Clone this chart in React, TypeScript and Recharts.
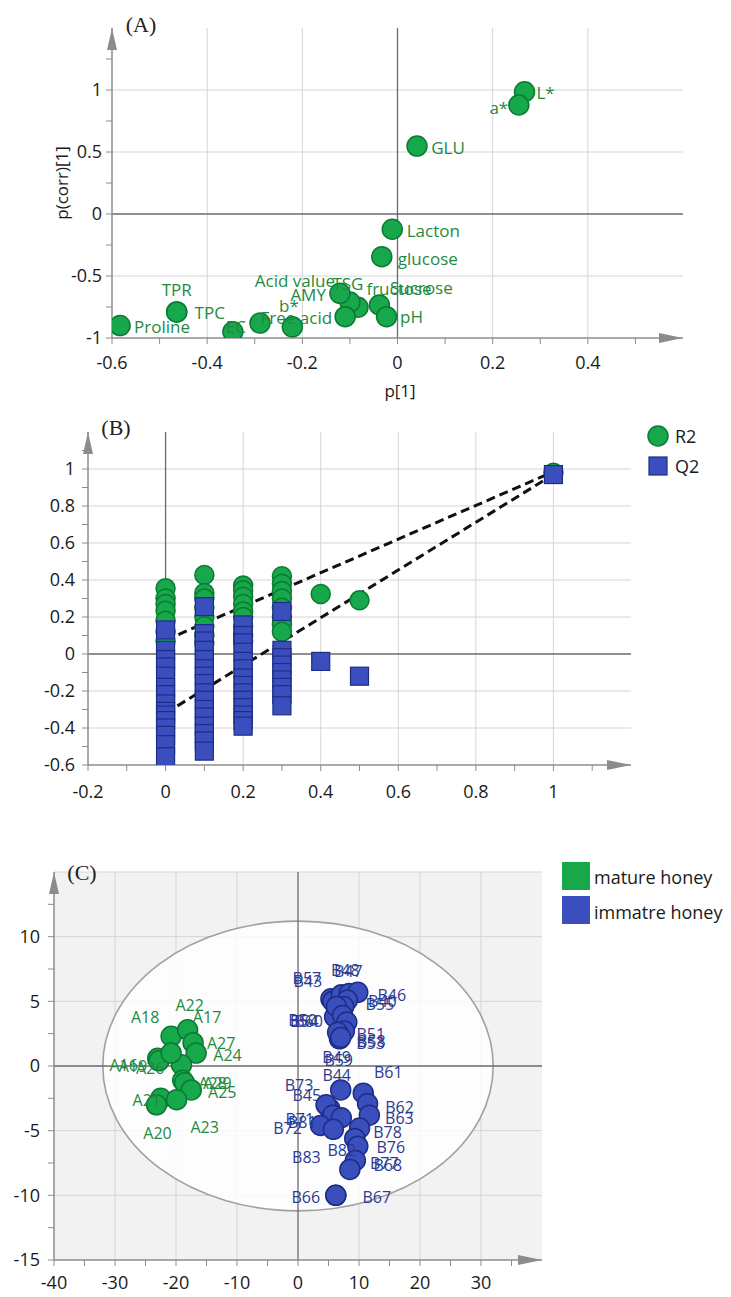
import React from "react";
import {
  ScatterChart,
  Scatter,
  XAxis,
  YAxis,
  CartesianGrid,
  ReferenceLine,
  ReferenceDot,
  ReferenceArea,
  Legend,
} from "recharts";

const FONT = '"Open Sans", "Noto Sans", sans-serif';
const SERIF = '"Liberation Serif", "DejaVu Serif", serif';
const GREEN = "#17a84c";
const GREEN_EDGE = "#0b7a33";
const GREEN_TEXT = "#1f8a3f";
const BLUE = "#3a4fbd";
const BLUE_EDGE = "#1d2d85";
const BLUE_TEXT = "#2b3b92";
const GRID = "#d5d5d5";
const AXIS = "#8c8c8c";
const ZERO = "#6a6a6a";

// ---- (A) loading plot ----
const loadNames = ["L*", "a*", "GLU", "Lacton", "glucose", "Sucrose", "pH", "fructose", "TSG", "Acid value", "AMY", "Free acid", "b*", "EC", "TPC", "TPR", "Proline"];
const loadP1 = [0.267, 0.255, 0.041, -0.011, -0.033, -0.038, -0.023, -0.083, -0.1, -0.121, -0.11, -0.221, -0.289, -0.346, -0.464, -0.464, -0.583];
const loadPcorr = [0.986, 0.879, 0.548, -0.123, -0.344, -0.734, -0.828, -0.752, -0.71, -0.64, -0.828, -0.91, -0.88, -0.95, -0.79, -0.79, -0.9];

const xTicksA = [-0.6, -0.5, -0.4, -0.3, -0.2, -0.1, 0, 0.1, 0.2, 0.3, 0.4, 0.5];
const xMajorA = [-0.6, -0.4, -0.2, 0, 0.2, 0.4];
const yTicksA = [-1, -0.75, -0.5, -0.25, 0, 0.25, 0.5, 0.75, 1, 1.25];
const yMajorA = [-1, -0.5, 0, 0.5, 1];

// ---- (B) permutation test ----
const permLevels = [0, 0.1, 0.2, 0.3];
const r2Perm = [
  [0.355, 0.3, 0.27, 0.234, 0.18, 0.12, 0.07],
  [0.427, 0.33, 0.3, 0.25, 0.2, 0.15, 0.1, 0.06],
  [0.37, 0.345, 0.31, 0.27, 0.23, 0.2, 0.15, 0.1, 0.07],
  [0.42, 0.38, 0.34, 0.3, 0.25, 0.2, 0.16, 0.12],
];
const q2Perm = [
  [0.13, 0.02, -0.03, -0.07, -0.12, -0.18, -0.22, -0.27, -0.31, -0.33, -0.36, -0.4, -0.44, -0.49, -0.555],
  [0.256, 0.11, 0.07, 0.02, -0.03, -0.08, -0.12, -0.16, -0.21, -0.25, -0.3, -0.34, -0.39, -0.43, -0.47, -0.525],
  [0.157, 0.1, 0.06, 0.01, -0.04, -0.08, -0.13, -0.17, -0.21, -0.25, -0.29, -0.33, -0.36, -0.39],
  [0.23, 0.02, -0.02, -0.06, -0.1, -0.14, -0.18, -0.22, -0.28],
];
const r2OtherX = [0.4, 0.5, 1];
const r2OtherY = [0.324, 0.29, 0.98];
const q2OtherX = [0.4, 0.5, 1];
const q2OtherY = [-0.04, -0.12, 0.97];
const r2Line = [0.075, 0.985];
const q2Line = [-0.32, 0.97];

const xTicksB = [-0.2, -0.1, 0, 0.1, 0.2, 0.3, 0.4, 0.5, 0.6, 0.7, 0.8, 0.9, 1, 1.1];
const xMajorB = [-0.2, 0, 0.2, 0.4, 0.6, 0.8, 1];
const yTicksB = [-0.6, -0.5, -0.4, -0.3, -0.2, -0.1, 0, 0.1, 0.2, 0.3, 0.4, 0.5, 0.6, 0.7, 0.8, 0.9, 1, 1.1];
const yMajorB = [-0.6, -0.4, -0.2, 0, 0.2, 0.4, 0.6, 0.8, 1];

// ---- (C) score plot ----
const matureNames = ["A18", "A22", "A17", "A27", "A24", "A16", "A19", "A26", "A28", "A29", "A25", "A21", "A20", "A23"];
const matureX = [-20.8, -18.1, -17.2, -16.7, -19.1, -23.0, -22.8, -20.8, -18.9, -18.6, -17.5, -22.5, -23.2, -19.9];
const matureY = [2.3, 2.8, 1.8, 1.0, 0.1, 0.6, 0.4, 1.0, -1.1, -1.3, -1.85, -2.5, -3.0, -2.6];

const immatureNames = ["B57", "B43", "B48", "B47", "B46", "B40", "B55", "B50", "B54", "B60", "B51", "B53", "B58", "B49", "B59", "B44", "B61", "B62", "B63", "B45", "B73", "B71", "B81", "B72", "B83", "B78", "B82", "B76", "B77", "B68", "B66", "B67"];
const immatureX = [5.4, 5.7, 7.1, 8.4, 9.8, 8.1, 7.5, 6.0, 6.3, 7.3, 8.0, 6.8, 7.6, 6.5, 7.0, 7.0, 10.7, 11.4, 11.7, 5.2, 4.6, 5.7, 7.1, 3.7, 5.8, 10.1, 9.3, 9.8, 9.4, 8.5, 6.2, 6.2];
const immatureY = [5.2, 5.0, 5.5, 5.6, 5.7, 5.1, 4.6, 3.8, 4.6, 3.9, 3.4, 2.1, 2.7, 2.6, 2.2, -1.85, -2.1, -2.9, -3.8, -3.3, -3.0, -3.8, -4.0, -4.6, -4.9, -4.8, -5.6, -6.2, -7.3, -8.0, -10.0, -10.0];
const ellipseRx = 32;
const ellipseRy = 11.2;

const xTicksC = [-40, -35, -30, -25, -20, -15, -10, -5, 0, 5, 10, 15, 20, 25, 30, 35];
const xMajorC = [-40, -30, -20, -10, 0, 10, 20, 30];
const yTicksC = [-15, -12.5, -10, -7.5, -5, -2.5, 0, 2.5, 5, 7.5, 10, 12.5];
const yMajorC = [-15, -10, -5, 0, 5, 10];

// label placement (px offsets of label centre from the marker)
const nudgeA: Record<string, number[]> = {
  "L*": [21, 1], "a*": [-20, 2], GLU: [31, 1], Lacton: [41, 1], glucose: [46, 2],
  Sucrose: [42, -18], pH: [25, 0], fructose: [41, -19], TSG: [-2, -19],
  "Acid value": [-45, -13], AMY: [-37, -22], "Free acid": [4, -9], "b*": [29, -18],
  EC: [3, -5], TPC: [33, 1], TPR: [0, -22], Proline: [42, 1],
};
const nudgeC: Record<string, number[]> = {
  A18: [-26, -19], A22: [2, -25], A17: [14, -26], A27: [25, -10], A24: [46, -10],
  A16: [-34, 7], A19: [-26, 5], A26: [-21, 15], A28: [30, 3], A29: [33, 0], A25: [31, 2],
  A21: [-14, 2], A20: [1, 28], A23: [28, 27],
  B57: [-24, -21], B43: [-25, -20], B48: [4, -25], B47: [-1, -23], B46: [34, 3], B40: [35, 1],
  B55: [36, -3], B50: [-32, 3], B54: [-32, 14], B60: [-34, 5], B51: [24, 12], B53: [31, 4],
  B58: [27, 10], B49: [-1, 25], B59: [-2, 22], B44: [-4, -15], B61: [25, -21], B62: [32, 3],
  B63: [30, 3], B45: [-23, -14], B73: [-27, -20], B71: [-33, 4], B81: [-39, 4], B72: [-33, 3],
  B83: [-27, 28], B78: [28, 4], B82: [-13, 12], B76: [33, 1], B77: [29, 3], B68: [38, -4],
  B66: [-30, 2], B67: [41, 2],
};

const zip = (names: string[], xs: number[], ys: number[]) =>
  xs.map((x, i) => ({ name: names[i], x, y: ys[i] }));

const loadData = zip(loadNames, loadP1, loadPcorr);
const matureData = zip(matureNames, matureX, matureY);
const immatureData = zip(immatureNames, immatureX, immatureY);
const r2Data = [
  ...permLevels.flatMap((lv, i) => r2Perm[i].map((y) => ({ x: lv, y }))),
  ...r2OtherX.map((x, i) => ({ x, y: r2OtherY[i] })),
];
const q2Data = [
  ...permLevels.flatMap((lv, i) => q2Perm[i].map((y) => ({ x: lv, y }))),
  ...q2OtherX.map((x, i) => ({ x, y: q2OtherY[i] })),
];

const fmt = (majors: number[]) => (v: number) => (majors.includes(v) ? String(v) : "");
const tickStyle = { fill: "#1a1a1a", fontSize: 18, fontFamily: FONT };

const circle = (fill: string, stroke: string, r: number) => (p: any) =>
  <circle cx={p.cx} cy={p.cy} r={r} fill={fill} stroke={stroke} strokeWidth={1.5} />;
const square = (fill: string, stroke: string, s: number) => (p: any) =>
  <rect x={p.cx - s / 2} y={p.cy - s / 2} width={s} height={s} fill={fill} stroke={stroke} strokeWidth={1.2} />;
const label = (nudge: Record<string, number[]>, color: string, size: number) => (p: any) => {
  const [dx, dy] = nudge[p.payload.name] ?? [16, 0];
  return (
    <text x={p.cx + dx} y={p.cy + dy} textAnchor="middle" dominantBaseline="central" fill={color} fontSize={size} fontFamily={FONT}>
      {p.payload.name}
    </text>
  );
};
const upArrow = (p: any) => <polygon points={`${p.cx},${p.cy} ${p.cx - 5},${p.cy + 22} ${p.cx + 5},${p.cy + 22}`} fill={AXIS} />;
const rightArrow = (p: any) => <polygon points={`${p.cx},${p.cy} ${p.cx - 24},${p.cy - 5} ${p.cx - 24},${p.cy + 5}`} fill={AXIS} />;

const abs = (left: number, top: number, extra: React.CSSProperties = {}): React.CSSProperties => ({
  position: "absolute", left, top, ...extra,
});

const PanelA = () => (
  <ScatterChart width={731} height={400} margin={{ top: 28, right: 48, bottom: 22, left: 62 }}>
    <CartesianGrid stroke={GRID} verticalValues={[-0.4, -0.2, 0.2, 0.4]} horizontalValues={[-0.5, 0.5, 1]} />
    <XAxis type="number" dataKey="x" domain={[-0.6, 0.6]} allowDataOverflow ticks={xTicksA} interval={0}
      tickFormatter={fmt(xMajorA)} tick={tickStyle} height={40} tickSize={6} tickMargin={12}
      axisLine={{ stroke: AXIS, strokeWidth: 1.5 }} tickLine={{ stroke: AXIS }} />
    <YAxis type="number" dataKey="y" domain={[-1, 1.5]} allowDataOverflow ticks={yTicksA} interval={0}
      tickFormatter={fmt(yMajorA)} tick={tickStyle} width={50} tickSize={6} tickMargin={4}
      axisLine={{ stroke: AXIS, strokeWidth: 1.5 }} tickLine={{ stroke: AXIS }} />
    <ReferenceLine x={0} stroke={ZERO} strokeWidth={1.3} />
    <ReferenceLine y={0} stroke={ZERO} strokeWidth={1.3} />
    <ReferenceDot x={-0.6} y={1.5} ifOverflow="visible" shape={upArrow} />
    <ReferenceDot x={0.6} y={-1} ifOverflow="visible" shape={rightArrow} />
    <Scatter data={loadData} isAnimationActive={false} shape={circle(GREEN, GREEN_EDGE, 10)} />
    <Scatter data={loadData} isAnimationActive={false} shape={label(nudgeA, GREEN_TEXT, 17)} />
  </ScatterChart>
);

const LegendB = () => (
  <svg width={70} height={56} style={{ display: "block" }}>
    <circle cx={12} cy={11} r={10} fill={GREEN} stroke={GREEN_EDGE} strokeWidth={1.5} />
    <text x={29} y={11} dominantBaseline="central" fontSize={18} fontFamily={FONT} fill="#1a1a1a">R2</text>
    <rect x={3} y={32} width={18} height={18} fill={BLUE} stroke={BLUE_EDGE} strokeWidth={1.2} />
    <text x={29} y={41} dominantBaseline="central" fontSize={18} fontFamily={FONT} fill="#1a1a1a">Q2</text>
  </svg>
);

const PanelB = () => (
  <ScatterChart width={731} height={420} margin={{ top: 32, right: 100, bottom: 15, left: 38 }}>
    <CartesianGrid stroke={GRID} verticalValues={[0.2, 0.4, 0.6, 0.8, 1]} horizontalValues={[-0.4, -0.2, 0.2, 0.4, 0.6, 0.8, 1]} />
    <XAxis type="number" dataKey="x" domain={[-0.2, 1.2]} allowDataOverflow ticks={xTicksB} interval={0}
      tickFormatter={fmt(xMajorB)} tick={tickStyle} height={40} tickSize={6} tickMargin={14}
      axisLine={{ stroke: AXIS, strokeWidth: 1.5 }} tickLine={{ stroke: AXIS }} />
    <YAxis type="number" dataKey="y" domain={[-0.6, 1.2]} allowDataOverflow ticks={yTicksB} interval={0}
      tickFormatter={fmt(yMajorB)} tick={tickStyle} width={50} tickSize={6} tickMargin={7}
      axisLine={{ stroke: AXIS, strokeWidth: 1.5 }} tickLine={{ stroke: AXIS }} />
    <ReferenceLine x={0} stroke={ZERO} strokeWidth={1.3} />
    <ReferenceLine y={0} stroke={ZERO} strokeWidth={1.3} />
    <ReferenceDot x={-0.2} y={1.2} ifOverflow="visible" shape={upArrow} />
    <ReferenceDot x={1.2} y={-0.6} ifOverflow="visible" shape={rightArrow} />
    <Scatter name="R2" data={r2Data} isAnimationActive={false} shape={circle(GREEN, GREEN_EDGE, 9.5)} />
    <Scatter name="Q2" data={q2Data} isAnimationActive={false} shape={square(BLUE, BLUE_EDGE, 18)} />
    <ReferenceLine segment={[{ x: 0, y: r2Line[0] }, { x: 1, y: r2Line[1] }]} stroke="#111" strokeWidth={3} strokeDasharray="9 5" ifOverflow="visible" />
    <ReferenceLine segment={[{ x: 0, y: q2Line[0] }, { x: 1, y: q2Line[1] }]} stroke="#111" strokeWidth={3} strokeDasharray="9 5" ifOverflow="visible" />
    <Legend layout="vertical" align="center" verticalAlign="middle" content={() => <LegendB />}
      wrapperStyle={{ left: 646, top: 25, width: 70, height: 56 }} />
  </ScatterChart>
);

const LegendC = () => (
  <svg width={168} height={64} style={{ display: "block" }}>
    <rect x={0} y={0} width={28} height={28} fill={GREEN} />
    <text x={32} y={15} dominantBaseline="central" fontSize={18} fontFamily={FONT} fill="#1a1a1a">mature honey</text>
    <rect x={0} y={34} width={28} height={28} fill={BLUE} />
    <text x={32} y={50} dominantBaseline="central" fontSize={18} fontFamily={FONT} fill="#1a1a1a">immatre honey</text>
  </svg>
);

const ellipseShape = (p: any) => (
  <ellipse cx={p.x + p.width / 2} cy={p.y + p.height / 2} rx={Math.abs(p.width) / 2} ry={Math.abs(p.height) / 2}
    fill="#ffffff" fillOpacity={0.8} stroke="#a0a0a0" strokeWidth={1.6} />
);

const PanelC = () => (
  <ScatterChart width={731} height={477} margin={{ top: 52, right: 189, bottom: 7, left: 4 }}>
    <CartesianGrid stroke={GRID} fill="#f2f2f2" verticalValues={[-30, -20, -10, 10, 20, 30]} horizontalValues={[-10, -5, 5, 10, 15]} />
    <XAxis type="number" dataKey="x" domain={[-40, 40]} allowDataOverflow ticks={xTicksC} interval={0}
      tickFormatter={fmt(xMajorC)} tick={tickStyle} height={30} tickSize={6} tickMargin={10}
      axisLine={{ stroke: AXIS, strokeWidth: 1.5 }} tickLine={{ stroke: AXIS }} />
    <YAxis type="number" dataKey="y" domain={[-15, 15]} allowDataOverflow ticks={yTicksC} interval={0}
      tickFormatter={fmt(yMajorC)} tick={tickStyle} width={50} tickSize={6} tickMargin={8}
      axisLine={{ stroke: AXIS, strokeWidth: 1.5 }} tickLine={{ stroke: AXIS }} />
    <ReferenceArea x1={-ellipseRx} x2={ellipseRx} y1={-ellipseRy} y2={ellipseRy} shape={ellipseShape} />
    <ReferenceLine x={0} stroke={ZERO} strokeWidth={1.3} />
    <ReferenceLine y={0} stroke={ZERO} strokeWidth={1.3} />
    <ReferenceDot x={-40} y={15} ifOverflow="visible" shape={upArrow} />
    <ReferenceDot x={40} y={-15} ifOverflow="visible" shape={rightArrow} />
    <Scatter name="mature honey" data={matureData} isAnimationActive={false} shape={circle(GREEN, GREEN_EDGE, 10)} />
    <Scatter name="immatre honey" data={immatureData} isAnimationActive={false} shape={circle(BLUE, BLUE_EDGE, 10)} />
    <Scatter data={matureData} isAnimationActive={false} shape={label(nudgeC, GREEN_TEXT, 16)} />
    <Scatter data={immatureData} isAnimationActive={false} shape={label(nudgeC, BLUE_TEXT, 16)} />
    <Legend layout="vertical" align="center" verticalAlign="middle" content={() => <LegendC />}
      wrapperStyle={{ left: 562, top: 42, width: 168, height: 64 }} />
  </ScatterChart>
);

const panelTag: React.CSSProperties = { fontFamily: SERIF, fontSize: 22, color: "#222", lineHeight: 1, transform: "translate(-50%, -50%)" };
const axisTitle: React.CSSProperties = { fontFamily: FONT, fontSize: 17, color: "#1a1a1a", lineHeight: 1, whiteSpace: "nowrap" };

export default function App() {
  return (
    <div style={{ position: "absolute", left: 0, top: 0, width: 731, height: 1297, background: "#fff", overflow: "hidden" }}>
      <div style={abs(0, 0)}><PanelA /></div>
      <div style={abs(0, 400)}><PanelB /></div>
      <div style={abs(0, 820)}><PanelC /></div>
      <div style={abs(141, 25, panelTag)}>(A)</div>
      <div style={abs(116, 428, panelTag)}>(B)</div>
      <div style={abs(82, 873, panelTag)}>(C)</div>
      <div style={abs(400, 390, { ...axisTitle, transform: "translate(-50%, -50%)" })}>p[1]</div>
      <div style={abs(61, 183, { ...axisTitle, transform: "translate(-50%, -50%) rotate(-90deg)" })}>p(corr)[1]</div>
    </div>
  );
}
